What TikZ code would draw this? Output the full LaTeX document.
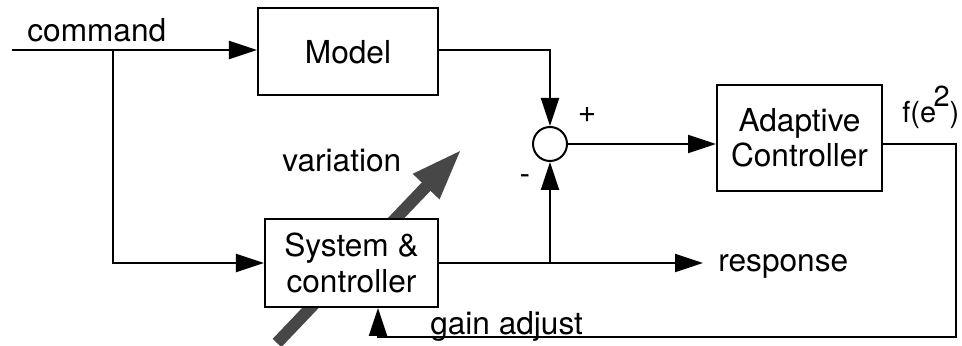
\documentclass[tikz,border=0pt]{standalone}
\usepackage{fontspec}
\setmainfont{TeX Gyre Heros}
\usetikzlibrary{arrows.meta,positioning,calc}

\begin{document}
\begin{tikzpicture}[x=0.2mm,y=-0.2mm,
	font=\fontsize{18}{20}\selectfont,
	sig/.style={line width=0.4mm,-{Triangle[length=5.6mm,width=3.6mm]}},
	block/.style={draw,line width=0.4mm,fill=white,align=center,inner sep=0pt},
	sumnode/.style={draw,line width=0.4mm,circle,fill=white,minimum size=6.8mm,inner sep=0pt}]
	\useasboundingbox (0,0) rectangle (962,346);
	\coordinate (varA) at (277,343);
	\coordinate (varB) at (462,149);
	\draw[line width=2.4mm,black!72,-{Triangle[length=10.4mm,width=6.6mm]}] (varA) -- (varB);
	\node[block,minimum width=36mm,minimum height=17.4mm] (model) at (348,52) {Model};
	\node[block,minimum width=34.6mm,minimum height=17.6mm] (sys) at (351.5,263) {System \&\\controller};
	\node[block,minimum width=33mm,minimum height=21.2mm] (ada) at (799.5,138) {Adaptive\\Controller};
	\node[sumnode] (sum) at (550,144) {};
	\coordinate (cmd) at (12,50);
	\coordinate (br) at (113,50);
	\coordinate (resp) at (703,263);
	\coordinate (fb) at (956,144);
	\coordinate (fbin) at (378,337);
	\draw[sig] (cmd) -- (cmd -| model.west);
	\draw[sig] (br) |- (sys.west);
	\draw[sig] (model.east |- cmd) -| (sum.north);
	\draw[sig] (sum.east) -- (sum.east -| ada.west);
	\draw[sig] (sys.east) -- (resp);
	\draw[sig] (sys.east -| sum) -- (sum.south);
	\draw[sig] (ada.east |- fb) -- (fb) |- (fbin) -- (fbin |- sys.south);
	\node[anchor=base west,inner sep=0pt] (cmdlbl) at (27,42) {command};
	\node[anchor=base west,inner sep=0pt] (varlbl) at (282,172) {variation};
	\node[inner sep=0pt] (plus) at (587,115) {+};
	\node[inner sep=0pt] (minus) at (525,180) {-};
	\node[anchor=base west,inner sep=0pt,font=\fontsize{16.5}{18}\selectfont] (flbl) at (902,123) {f(e\kern-1.5pt\raisebox{9.5pt}{2})};
	\node[anchor=west,inner sep=0pt] (resplbl) at (718,266) {response};
	\node[anchor=base west,inner sep=0pt] (gainlbl) at (430,335) {gain adjust};
\end{tikzpicture}
\end{document}
